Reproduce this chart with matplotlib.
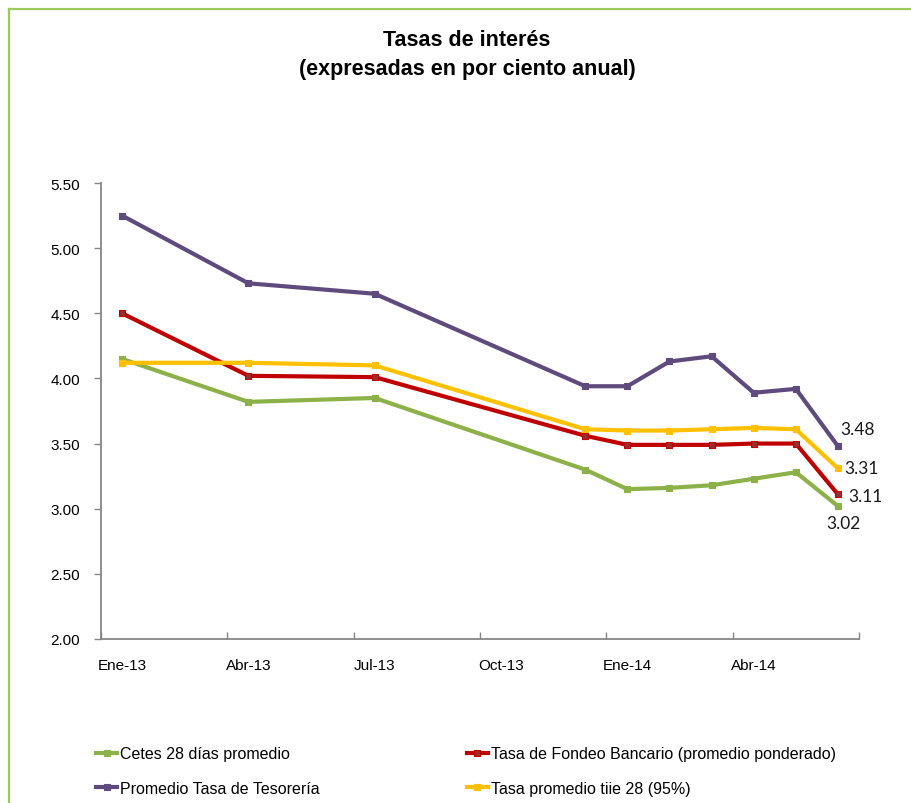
import matplotlib
matplotlib.use("Agg")
import matplotlib.pyplot as plt
from matplotlib.lines import Line2D
import pandas as pd

#################   datos   #################

fechas = ['2013-01', '2013-04', '2013-07', '2013-12', '2014-01',
          '2014-02', '2014-03', '2014-04', '2014-05', '2014-06']

cetes = [4.15, 3.82, 3.85, 3.30, 3.15, 3.16, 3.18, 3.23, 3.28, 3.02]
fondeo = [4.50, 4.02, 4.01, 3.56, 3.49, 3.49, 3.49, 3.50, 3.50, 3.11]
tesoreria = [5.25, 4.73, 4.65, 3.94, 3.94, 4.13, 4.17, 3.89, 3.92, 3.48]
tiie = [4.12, 4.12, 4.10, 3.61, 3.60, 3.60, 3.61, 3.62, 3.61, 3.31]

nombres = ['Cetes 28 días promedio',
           'Tasa de Fondeo Bancario (promedio ponderado)',
           'Promedio Tasa de Tesorería',
           'Tasa promedio tiie 28 (95%)']
colores = ['#8db149', '#c00000', '#5f4a7e', '#ffc000']
series = [cetes, fondeo, tesoreria, tiie]

etiquetas_x = ['Ene-13', 'Abr-13', 'Jul-13', 'Oct-13', 'Ene-14', 'Abr-14']
y_ticks = [2.0, 2.5, 3.0, 3.5, 4.0, 4.5, 5.0, 5.5]

# meses desde ene-13, centrados en su casilla (eje de fechas tipo Excel)
inicio = pd.Period('2013-01', freq='M')
x = [(pd.Period(f, freq='M') - inicio).n + 0.5 for f in fechas]
n_meses = 18

#################   figura   #################

W, H = 912, 804
fig = plt.figure(figsize=(W / 100, H / 100), dpi=100)
fig.patch.set_facecolor('white')

# marco verde (solo arriba e izquierda)
borde = '#9bc95a'
fig.add_artist(Line2D([9 / W, 1], [1 - 10 / H, 1 - 10 / H], color=borde, lw=1.6,
                      transform=fig.transFigure))
fig.add_artist(Line2D([9 / W, 9 / W], [0, 1 - 10 / H], color=borde, lw=1.6,
                      transform=fig.transFigure))

ax = fig.add_axes([101 / W, (H - 640) / H, (859 - 101) / W, (640 - 184) / H])

lineas = []
for vals, nom, col in zip(series, nombres, colores):
    mfc = '#9b2d30' if col == '#c00000' else col
    l, = ax.plot(x, vals, color=col, lw=3, marker='s', ms=5,
                 markerfacecolor=mfc, markeredgecolor=col, markeredgewidth=0.8,
                 label=nom, solid_joinstyle='round')
    lineas.append(l)

# valores del ultimo mes (desplazamiento en pixeles)
desplaz = [(5, -17), (27, -2), (20, 17), (24, 0)]
for vals, (dx, dy) in zip(series, desplaz):
    ax.annotate(f'{vals[-1]:.2f}', (x[-1], vals[-1]), xytext=(dx, dy),
                textcoords='offset pixels', ha='center', va='center',
                fontsize=12.5, family=['Lato', 'DejaVu Sans'], color='#1a1a1a')

ax.set_xlim(0, n_meses)
ax.set_ylim(2.0, 5.5)
ax.set_yticks(y_ticks)
ax.set_yticklabels([f'{v:.2f}' for v in y_ticks],
                   fontsize=11, family=['Liberation Sans', 'DejaVu Sans'])

ax.set_xticks(range(0, n_meses + 1, 3))
ax.set_xticklabels([])
ax.set_xticks([m + 0.5 for m in range(0, n_meses, 3)], minor=True)
ax.set_xticklabels(etiquetas_x, minor=True, fontsize=11,
                   family=['Liberation Sans', 'DejaVu Sans'])
ax.tick_params(axis='x', which='major', direction='in', length=5,
               color='#868686', width=1)
ax.tick_params(axis='x', which='minor', length=0, pad=14)
ax.tick_params(axis='y', direction='out', length=5, color='#868686',
               width=1, pad=10)

for s in ['top', 'right']:
    ax.spines[s].set_visible(False)
for s in ['left', 'bottom']:
    ax.spines[s].set_color('#868686')
    ax.spines[s].set_linewidth(1.3)

#################   titulo y leyenda   #################

fuente = ['Liberation Sans', 'DejaVu Sans']
fig.text(467 / W, 1 - 40 / H, 'Tasas de interés', ha='center', va='center',
         fontsize=15.5, fontweight='bold', family=fuente)
fig.text(467 / W, 1 - 70 / H, '(expresadas en por ciento anual)', ha='center',
         va='center', fontsize=15.5, fontweight='bold', family=fuente)

orden = [0, 2, 1, 3]
fig.legend([lineas[i] for i in orden], [nombres[i] for i in orden], ncol=2,
           loc='upper left', bbox_to_anchor=(90 / W, 1 - 741 / H),
           frameon=False, handlelength=1.3, handletextpad=0.2,
           columnspacing=9.2, labelspacing=1.2, borderaxespad=0,
           prop={'family': fuente, 'size': 11.5})

fig.savefig('out.png', dpi=100)
